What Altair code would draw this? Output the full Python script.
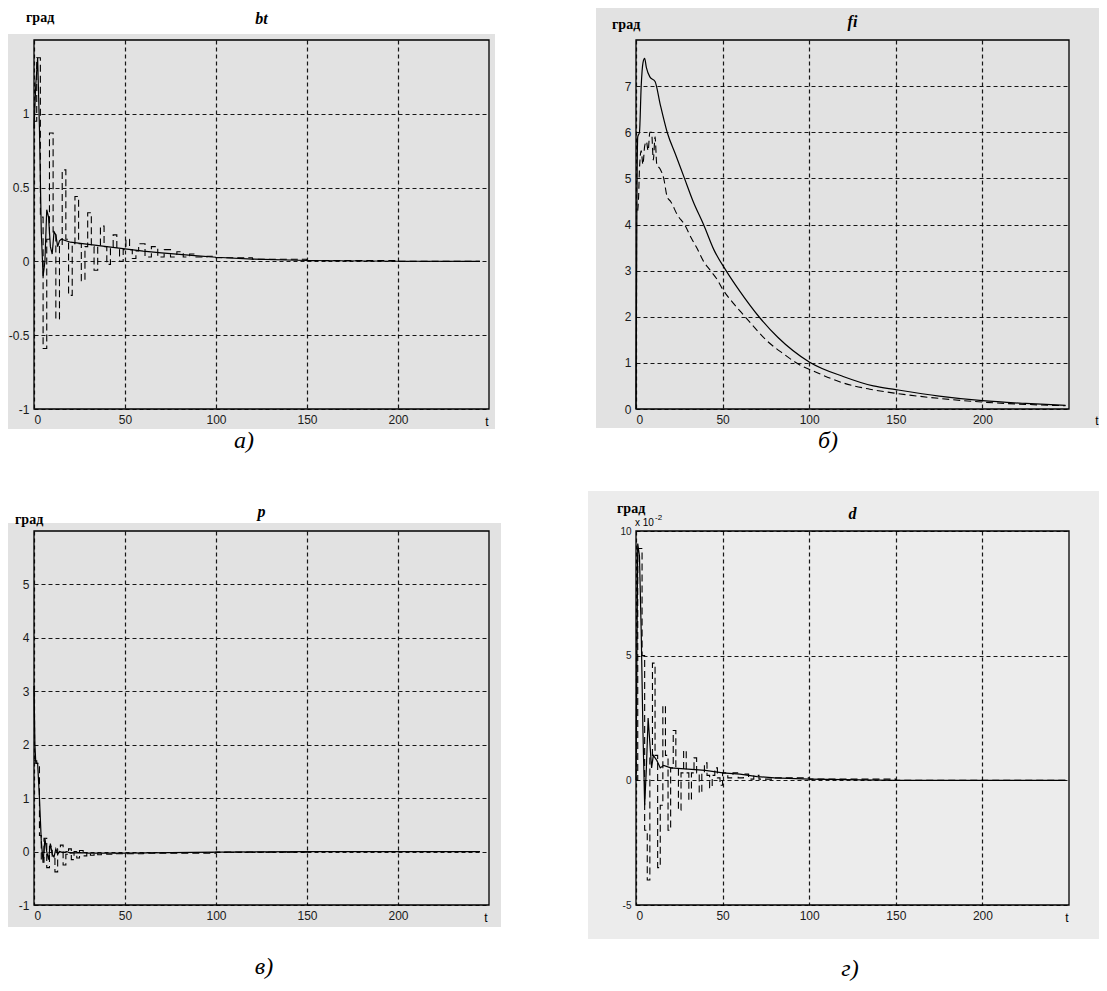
import altair as alt
import pandas as pd

# ---------------- data ----------------
# panel a: bt
a_sol_t = [0, 1, 2, 3, 4, 5, 6, 7, 8, 9, 10, 11, 12, 13, 14, 15, 20, 30, 40, 50, 60, 70, 80, 90, 100, 120, 150, 200, 245]
a_sol_v = [0.9, 1.2, 1.38, 0.9, 0.2, -0.1, 0.0, 0.35, 0.3, 0.1, 0.05, 0.2, 0.18, 0.1, 0.14, 0.15, 0.13, 0.115, 0.1, 0.085,
           0.07, 0.058, 0.047, 0.037, 0.028, 0.016, 0.006, 0.001, 0.0]
a_das_t = [0, 1.5, 3.5, 5, 7, 8.5, 10.5, 12, 14, 15.5, 17.5, 19, 21, 22.5, 24.5, 26, 28, 29.5, 31.5, 33, 35, 36.5,
           38.5, 40, 42, 43.5, 45.5, 47, 49, 50.5, 52.5, 54, 56, 57.5, 61, 64.5, 68, 71.5, 75, 78.5, 82, 85.5, 89,
           95, 100, 120, 150, 200, 245]
a_das_v = [0.95, 1.38, 0.3, -0.59, 0.15, 0.87, 0.2, -0.39, 0.1, 0.62, 0.15, -0.23, 0.12, 0.44, 0.12, -0.13, 0.1, 0.33,
           0.1, -0.06, 0.1, 0.24, 0.1, -0.02, 0.1, 0.18, 0.08, 0.0, 0.08, 0.15, 0.08, 0.02, 0.07, 0.12, 0.03, 0.1,
           0.03, 0.08, 0.03, 0.065, 0.03, 0.05, 0.03, 0.035, 0.025, 0.015, 0.005, 0.0, 0.0]

# panel b: fi
b_sol_t = [0, 0.5, 1, 2, 3, 4, 5, 6, 8, 11, 14, 18, 23, 28, 33, 39, 45, 52, 60, 71, 82, 100, 120, 137, 150, 175, 200, 225, 248]
b_sol_v = [0, 4.3, 5.9, 6.0, 7.0, 7.5, 7.6, 7.4, 7.2, 7.1, 6.6, 6.0, 5.5, 5.0, 4.5, 4.0, 3.45, 3.0, 2.55, 2.0, 1.55,
           1.02, 0.7, 0.5, 0.42, 0.28, 0.18, 0.12, 0.08]
b_das_t = [1, 1.5, 2, 3, 4, 5, 6, 7, 8, 9, 10, 11, 12, 14, 16, 18, 20, 24, 28, 32, 35, 39, 43, 47, 50, 56, 63, 70, 75,
           85, 93, 105, 120, 135, 150, 175, 200, 225, 248]
b_das_v = [4.3, 4.6, 5.2, 5.6, 5.3, 5.7, 5.8, 5.6, 6.0, 6.0, 5.4, 5.9, 5.3, 5.2, 5.0, 4.6, 4.5, 4.2, 4.0, 3.7, 3.5,
           3.2, 3.0, 2.8, 2.6, 2.3, 2.0, 1.7, 1.5, 1.2, 0.99, 0.78, 0.56, 0.43, 0.34, 0.23, 0.15, 0.1, 0.07]

# panel c: p
c_sol_t = [0, 0.5, 1, 2, 3, 3.5, 4, 5, 6, 7, 8, 9, 10, 11, 12, 13, 14, 16, 18, 20, 25, 30, 40, 50, 75, 100, 150, 200, 245]
c_sol_v = [3.1, 2.0, 1.65, 1.65, 1.0, 0.6, 0.2, -0.2, 0.25, 0.0, -0.15, 0.15, -0.05, -0.1, 0.05, -0.05, 0.0, -0.02,
           0.0, -0.03, -0.02, -0.03, -0.03, -0.03, -0.02, -0.01, 0.0, 0.0, 0.0]
c_das_t = [0, 1.5, 3, 4, 5.5, 7, 8.5, 10, 11.5, 13, 14.5, 16, 17.5, 19, 20.5, 22, 23.5, 25, 27, 29, 31, 33, 35, 37, 40,
           45, 50, 60, 80, 100, 150, 200, 245]
c_das_v = [1.7, 1.65, 0.3, -0.2, 0.25, -0.3, 0.1, -0.1, -0.38, 0.05, 0.12, -0.25, -0.05, 0.05, -0.15, 0.0, -0.12, 0.02,
           -0.08, -0.02, -0.07, -0.03, -0.06, -0.04, -0.05, -0.04, -0.04, -0.03, -0.03, -0.01, 0.0, 0.0, 0.0]

# panel d: d  (values in units of 1e-2)
d_sol_t = [0, 1, 2, 3, 4, 5, 6, 7, 8, 9, 10, 12, 14, 16, 20, 30, 40, 50, 60, 70, 80, 100, 150, 200, 248]
d_sol_v = [0, 9.5, 9.0, 6.0, 2.0, -1.0, 0.5, 2.5, 1.5, 0.5, 1.0, 0.8, 0.5, 0.6, 0.5, 0.45, 0.4, 0.3, 0.25, 0.15, 0.1,
           0.05, 0.0, 0.0, 0.0]
d_das_t = [0, 1, 3.5, 5, 6.5, 8, 9.5, 11, 12.5, 14, 15.5, 17, 18.5, 20, 21.5, 23, 24.5, 26, 27.5, 29, 30.5, 32, 33.5,
           35, 36.5, 38, 39.5, 41, 42.5, 44, 45.5, 47, 48.5, 50, 53, 56, 59, 62, 65, 68, 71, 80, 100, 150, 200, 248]
d_das_v = [0, 9.3, 5.0, -2.0, -4.0, 1.0, 4.7, 1.0, -3.5, -1.0, 3.0, 1.0, -2.0, 0.5, 2.0, 0.5, -1.2, 0.3, 1.2, 0.3,
           -0.8, 0.3, 0.9, 0.3, -0.5, 0.3, 0.7, 0.2, -0.3, 0.2, 0.5, 0.1, -0.2, 0.3, 0.1, 0.3, 0.1, 0.25, 0.05, 0.2,
           0.05, 0.1, 0.05, 0.0, 0.0, 0.0]

x_ticks = [0, 50, 100, 150, 200]

SANS = "Liberation Sans"
SERIF = "Liberation Serif"
ONE = pd.DataFrame({"k": [0]})

AX = dict(labelFont=SANS, labelColor="#1a1a1a", domain=False, ticks=False, grid=True,
          gridColor="#000000", gridDash=[4, 3], gridWidth=1.2, gridOpacity=0.9,
          labelPadding=5, zindex=1, labelOverlap=False)


def txt(text, x, y, font=SANS, size=12, weight="normal", style="normal", align="center", color="black"):
    return alt.Chart(ONE).mark_text(
        text=text, font=font, fontSize=size, fontWeight=weight, fontStyle=style,
        align=align, baseline="middle", color=color
    ).encode(x=alt.value(x), y=alt.value(y))


def panel(W, H, st, sv, dt, dv, ydom, yticks, bg, texts, ylabsize=12, dinterp="step-after", sinterp="linear"):
    xs = alt.X("t:Q", title=None, scale=alt.Scale(domain=[0, 250], nice=False, zero=False),
               axis=alt.Axis(values=x_ticks, labelExpr="'' + datum.value", labelFontSize=12, **AX))
    ys = alt.Y("v:Q", title=None, scale=alt.Scale(domain=ydom, nice=False, zero=False),
               axis=alt.Axis(values=yticks, labelExpr="'' + datum.value", labelFontSize=ylabsize, **AX))
    back = alt.Chart(ONE).mark_rect(color=bg[4]).encode(
        x=alt.value(bg[0]), x2=alt.value(W + bg[1]), y=alt.value(bg[2]), y2=alt.value(H + bg[3]))
    sol = alt.Chart(pd.DataFrame({"t": st, "v": sv})).mark_line(
        color="black", strokeWidth=1.2, interpolate=sinterp).encode(x=xs, y=ys)
    das = alt.Chart(pd.DataFrame({"t": dt, "v": dv})).mark_line(
        color="black", strokeWidth=1.1, strokeDash=[7, 4], interpolate=dinterp).encode(x=xs, y=ys)
    frame = alt.Chart(ONE).mark_rect(fillOpacity=0, stroke="black", strokeWidth=1.3).encode(
        x=alt.value(0), x2=alt.value(W), y=alt.value(0), y2=alt.value(H))
    return alt.layer(back, das, sol, frame, *texts).properties(width=W, height=H)


W1, W2, H1, H2 = 455, 433, 369, 374

pa = panel(W1, H1, a_sol_t, a_sol_v, a_das_t, a_das_v, [-1, 1.5], [-1, -0.5, 0, 0.5, 1],
           (-26, 6, -6, 20, "#e2e2e2"),
           [txt("град", -8, -22, SERIF, 14, "bold", align="left"),
            txt("bt", W1 / 2, -21, SERIF, 16, "bold", "italic"),
            txt("t", W1 - 2, H1 + 13),
            txt("а)", 210, H1 + 32, SERIF, 24, style="italic")])

pb = panel(W2, H1, b_sol_t, b_sol_v, b_das_t, b_das_v, [0, 8], [0, 1, 2, 3, 4, 5, 6, 7],
           (-40, 30, -32, 19, "#e2e2e2"),
           [txt("град", -24, -15, SERIF, 14, "bold", align="left"),
            txt("fi", W2 / 2, -18, SERIF, 16, "bold", "italic"),
            txt("t", W2 + 28, H1 + 12),
            txt("б)", 192, H1 + 32, SERIF, 24, style="italic")],
           dinterp="monotone", sinterp="monotone")

pc = panel(W1, H2, c_sol_t, c_sol_v, c_das_t, c_das_v, [-1, 6], [-1, 0, 1, 2, 3, 4, 5],
           (-26, 12, -8, 22, "#e2e2e2"),
           [txt("град", -19, -11, SERIF, 14, "bold", align="left"),
            txt("p", W1 / 2, -19, SERIF, 16, "bold", "italic"),
            txt("t", W1 - 3, H2 + 13),
            txt("в)", 230, H2 + 62, SERIF, 24, style="italic")])

pd_ = panel(W2, H2, d_sol_t, d_sol_v, d_das_t, d_das_v, [-5, 10], [-5, 0, 5, 10],
            (-48, 30, -40, 34, "#ececec"),
            [txt("град", -19, -22, SERIF, 14, "bold", align="left"),
             txt("x 10", -1, -8, SANS, 10, align="left"),
             txt("-2", 19, -13, SANS, 8, align="left"),
             txt("d", W2 / 2, -17, SERIF, 16, "bold", "italic"),
             txt("t", W2 - 2, H2 + 13),
             txt("г)", 214, H2 + 64, SERIF, 24, style="italic")],
            ylabsize=10)

chart = alt.concat(pa, pb, pc, pd_, columns=2, spacing={"row": 122, "column": 147}, bounds="flush").properties(
    padding=0, background="white"
).configure_view(
    stroke=None
)

chart.save("out.html", embed_options={"renderer": "svg", "actions": False})
